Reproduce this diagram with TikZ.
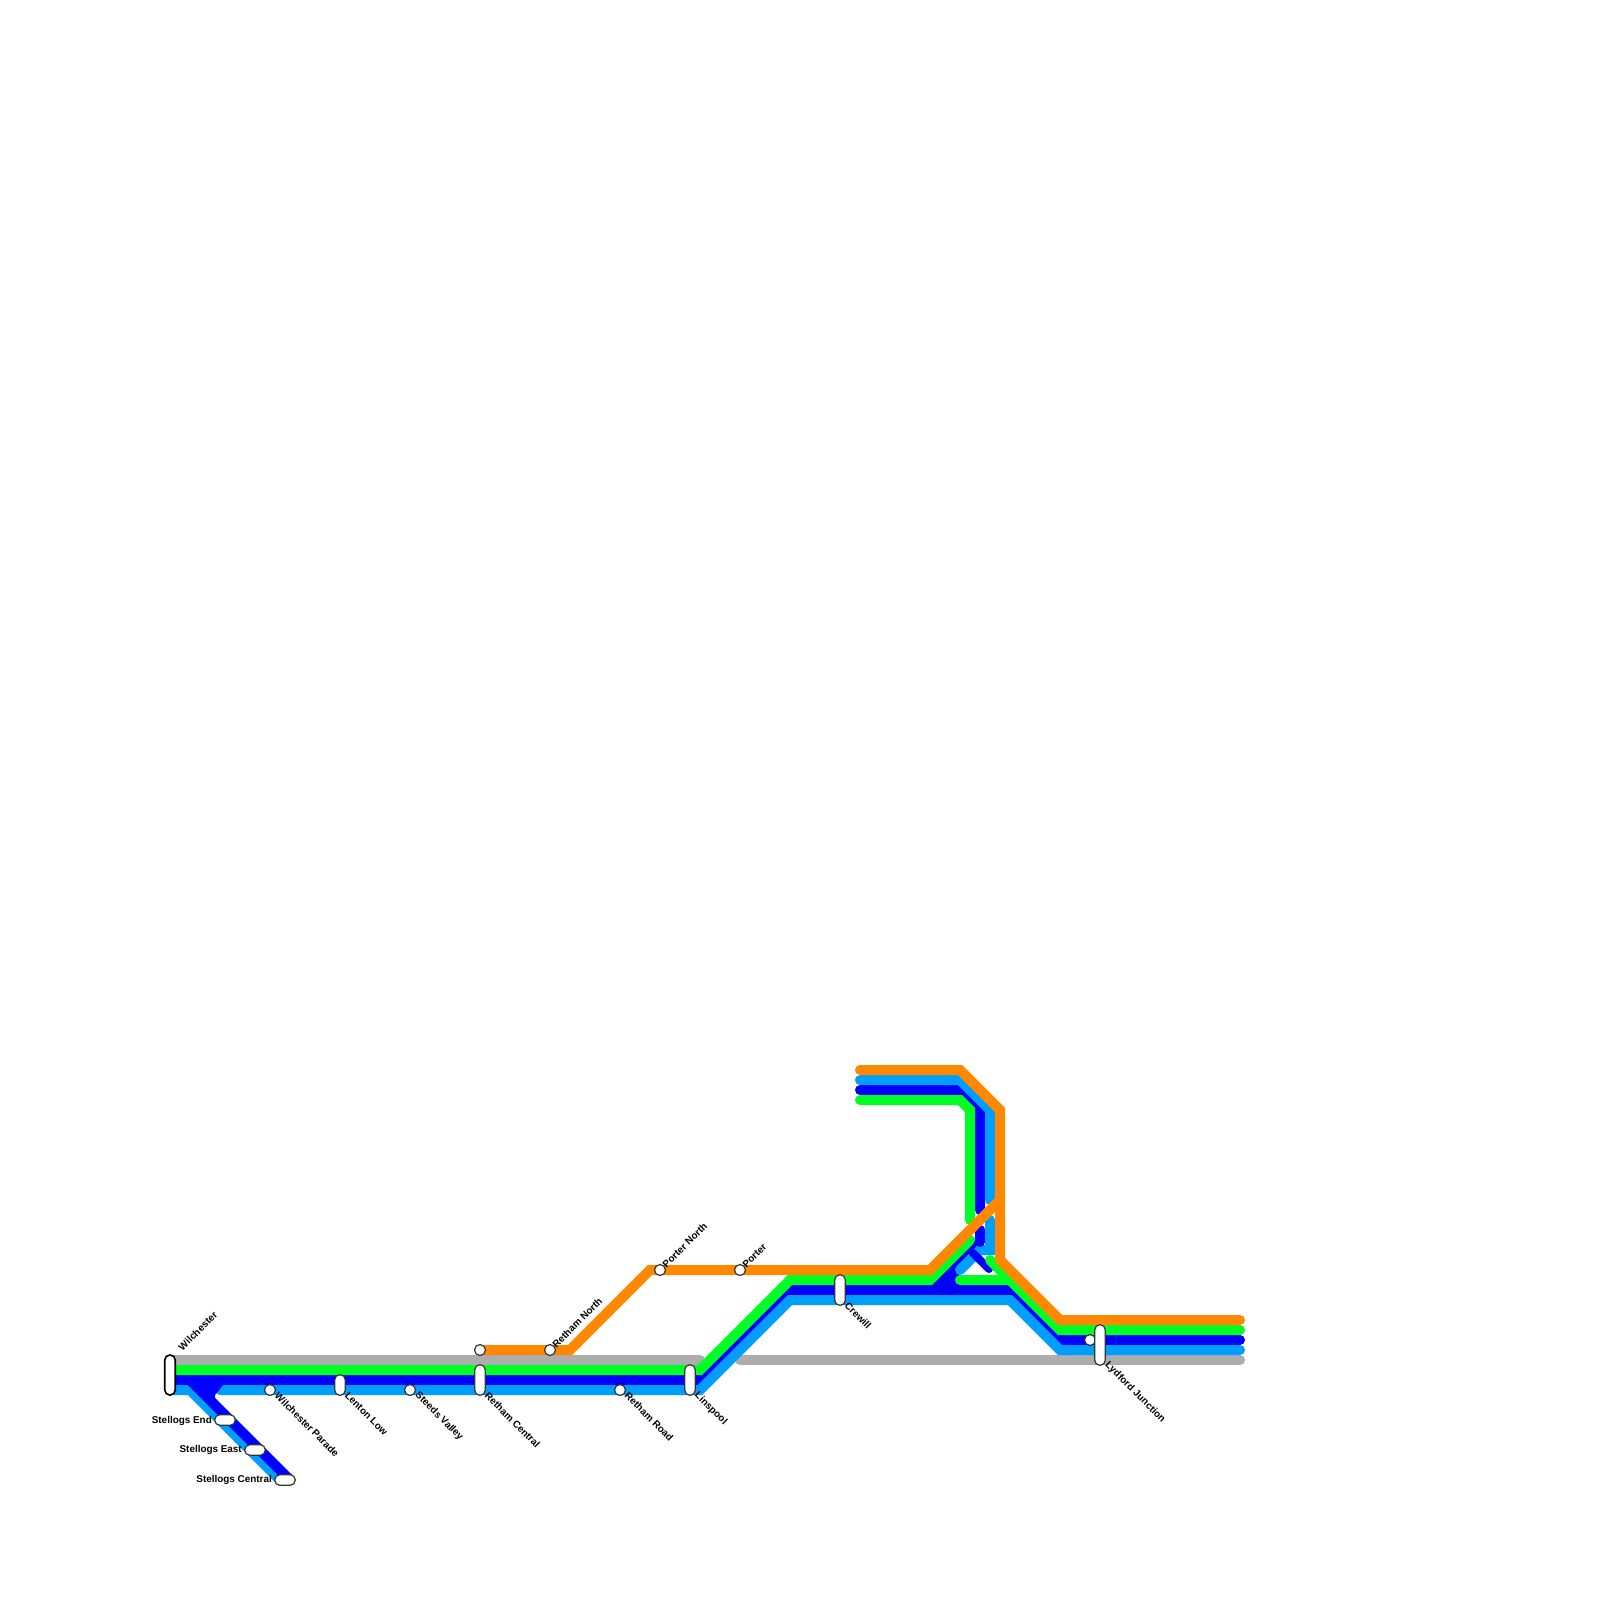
\documentclass[tikz,border=0pt]{standalone}
\usepackage{fontspec}
\setmainfont{Liberation Sans}
\definecolor{cOrange}{HTML}{FF8800}
\definecolor{cGreen}{HTML}{00FF22}
\definecolor{cBlue}{HTML}{0000FF}
\definecolor{cSky}{HTML}{009EFF}
\definecolor{cGrey}{HTML}{ADADAD}
\tikzset{
  mline/.style={line width=10pt,line cap=round,line join=miter,miter limit=10},
  capsule/.style={draw=black!80,fill=white,line width=1.2pt,rectangle,rounded corners=5pt,inner sep=0pt},
  vcap/.style={capsule,minimum width=10.5pt},
  hcap/.style={capsule,minimum width=20.5pt,minimum height=10.5pt},
  dot/.style={draw=black!80,fill=white,line width=1.2pt,circle,inner sep=0pt,minimum size=11pt},
  lab/.style={font=\bfseries\fontsize{9.9}{10}\selectfont,inner sep=0pt,text=black},
  up/.style={lab,rotate=45,anchor=west},
  down/.style={lab,rotate=-45,anchor=west},
  left lab/.style={lab,anchor=east}
}
\begin{document}
\begin{tikzpicture}[x=1pt,y=-1pt]
\useasboundingbox (0,0) rectangle (1600,1600);
\fill[white] (0,0) rectangle (1600,1600);
% grey
\draw[mline,cGrey] (170,1360) -- (700,1360);
\draw[mline,cGrey] (740,1360) -- (1240,1360);
% blue
\draw[mline,cBlue] (170,1380) -- (700,1380) -- (790,1290) -- (1010,1290) -- (1060,1340) -- (1240,1340);
\draw[mline,cBlue] (860,1090) -- (960,1090) -- (980,1110) -- (980,1210);
\draw[mline,cBlue] (930,1290) -- (980,1240) -- (980,1230);
\fill[cBlue] (925,1293) -- (965,1250) -- (972,1256) -- (960,1272) -- (960,1295) -- cycle;
% sky
\draw[mline,cSky,line cap=butt] (170,1390) -- (190,1390) -- (279,1479);
\draw[mline,cSky] (220,1390) -- (700,1390) -- (790,1300) -- (1010,1300) -- (1060,1350) -- (1240,1350);
\draw[mline,cSky] (860,1080) -- (960,1080) -- (990,1110) -- (990,1200);
\draw[mline,cSky] (990,1220) -- (990,1250) -- (980,1250) -- (960,1270);
% blue over sky
\draw[mline,cBlue,line cap=butt] (190,1380) -- (290,1480);
\fill[cBlue] (188,1383) -- (223,1385) -- (215,1395) -- (215,1399) -- (205,1399) -- cycle;
\draw[mline,cBlue] (980,1230) -- (980,1242);
\draw[line width=8pt,cBlue,line cap=round] (973,1253) -- (989,1269);
% green
\draw[mline,cGreen] (170,1370) -- (700,1370) -- (790,1280) -- (930,1280) -- (970,1240);
\draw[mline,cGreen] (860,1100) -- (960,1100) -- (970,1110) -- (970,1220);
\draw[mline,cGreen] (960,1280) -- (1010,1280) -- (1060,1330) -- (1240,1330);
\draw[mline,cGreen] (990,1260) -- (1010,1280);
% orange
\draw[mline,cOrange] (860,1070) -- (960,1070) -- (1000,1110) -- (1000,1260) -- (1060,1320) -- (1240,1320);
\draw[mline,cOrange] (480,1350) -- (570,1350) -- (650,1270) -- (930,1270) -- (1000,1200);
% stations
\node[vcap,draw=black,line width=1.6pt,minimum height=40pt] (wil) at (170,1375) {};
\node[dot] (wilp) at (270,1390) {};
\node[vcap,minimum height=20.5pt] (len) at (340,1385) {};
\node[dot] (ste) at (410,1390) {};
\node[vcap,minimum height=30.5pt] (retc) at (480,1380) {};
\node[dot] (rets) at (480,1350) {};
\node[dot] (retn) at (550,1350) {};
\node[dot] (retr) at (620,1390) {};
\node[vcap,minimum height=30.5pt] (lin) at (690,1380) {};
\node[dot] (porn) at (660,1270) {};
\node[dot] (por) at (740,1270) {};
\node[vcap,minimum height=30.5pt] (cre) at (840,1290) {};
\node[dot] (lyds) at (1090,1340) {};
\node[vcap,minimum height=40.5pt] (lyd) at (1100,1345) {};
\node[hcap] (se) at (225,1420) {};
\node[hcap] (sa) at (255,1450) {};
\node[hcap] (sc) at (285,1480) {};
% labels
\node[up] (lwil) at (180,1349) {Wilchester};
\node[down] (lwilp) at (276.5,1394) {Wilchester Parade};
\node[down] (llen) at (346.5,1394) {Lenton Low};
\node[down] (lste) at (416.5,1394) {Steeds Valley};
\node[down] (lretc) at (486.5,1394) {Retham Central};
\node[down] (lretr) at (626.5,1394) {Retham Road};
\node[down] (llin) at (696,1394) {Linspool};
\node[down] (lcre) at (846.5,1304) {Crewill};
\node[down] (llyd) at (1106.5,1364) {Lydford Junction};
\node[up] (lretn) at (554,1346) {Retham North};
\node[up] (lporn) at (664,1266) {Porter North};
\node[up] (lpor) at (744,1266) {Porter};
\node[left lab] (lse) at (212,1421) {Stellogs End};
\node[left lab] (lsa) at (242,1450) {Stellogs East};
\node[left lab] (lsc) at (272,1480) {Stellogs Central};
\end{tikzpicture}
\end{document}
